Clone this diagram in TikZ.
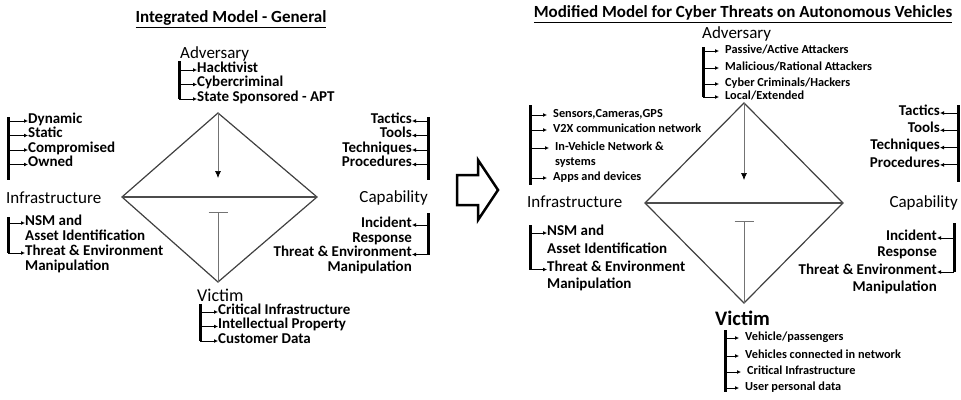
\documentclass[tikz,border=0pt]{standalone}
\usepackage{fontspec}
\setmainfont{Carlito}
\usetikzlibrary{arrows.meta}
\usetikzlibrary{positioning}
\usetikzlibrary{calc}

\begin{document}
\begin{tikzpicture}[x=1pt,y=-1pt]
\tikzstyle{title node}=[font=\bfseries\fontsize{17}{20}\selectfont,inner sep=0]
\tikzstyle{head node}=[font=\fontsize{17}{20}\selectfont,inner sep=0]
\tikzstyle{item node}=[font=\bfseries\fontsize{15}{18}\selectfont,inner sep=0,text height=0.64em,text depth=0.2em]
\tikzstyle{small node}=[font=\bfseries\fontsize{12.3}{15}\selectfont,inner sep=0,text height=0.64em,text depth=0.2em]
\tikzset{
  bar/.style  = {line width=3pt},
  tick/.style = {-{Latex[length=4pt,width=4pt]},line width=0.9pt},
  gap tick/.style = {tick,shorten >=6pt},
  side/.style = {line width=1.2pt,draw=black!75},
  axis/.style = {line width=1.6pt,draw=black!70},
  down/.style = {line width=0.7pt,draw=black!55,-{Latex[length=7pt,width=6pt,black]}},
  stop/.style = {line width=0.7pt,draw=black!55,-{Bar[width=19pt]}}
}
\useasboundingbox (0,0) rectangle (961,399);

%%%%%%%%%%%%%%%%%%%%%%%%%% integrated model
\node[title node] (titleL) at (231,19) {\underline{Integrated Model - General}};
\coordinate (topL) at (218,113);
\coordinate (leftL) at (122,197);
\coordinate (rightL) at (317,197);
\coordinate (botL) at (218,282);
\coordinate (arrL) at (218,178);
\coordinate (stopL) at (218,212);
\draw[side] (topL) -- (rightL) -- (botL) -- (leftL) -- cycle;
\draw[axis] (leftL) -- (rightL);
\path (topL) edge[down] (arrL)
      (botL) edge[stop] (stopL);

\node[head node, anchor=west] (advL) at (180,54) {Adversary};
\node[item node, anchor=west] (hackL) at (197,70) {Hacktivist};
\node[item node, below=14.5pt of hackL.west, anchor=west] (cybL) {Cybercriminal};
\node[item node, below=14.5pt of cybL.west, anchor=west] (stateL) {State Sponsored - APT};
\coordinate (advbarL) at (179,61);

\node[item node, anchor=west] (dynL) at (28,121) {Dynamic};
\node[item node, below=14.5pt of dynL.west, anchor=west] (statL) {Static};
\node[item node, below=14.5pt of statL.west, anchor=west] (compL) {Compromised};
\node[item node, below=14.5pt of compL.west, anchor=west] (ownL) {Owned};
\coordinate (infbarL) at (8,117);
\coordinate (infendL) at (8,180);
\node[head node, anchor=west] (infL) at (6,198) {Infrastructure};
\node[item node, anchor=west] (nsmL) at (25,223) {NSM and};
\node[item node, below=15pt of nsmL.west, anchor=west] (assetL) {Asset Identification};
\node[item node, below=15pt of assetL.west, anchor=west] (thrL) {Threat \& Environment};
\node[item node, below=15pt of thrL.west, anchor=west] (manL) {Manipulation};
\coordinate (nsmbarL) at (8,217);

\node[item node, anchor=east] (tacL) at (412,121) {Tactics};
\node[item node, below=14.5pt of tacL.east, anchor=east] (toolL) {Tools};
\node[item node, below=14.5pt of toolL.east, anchor=east] (techL) {Techniques};
\node[item node, below=14.5pt of techL.east, anchor=east] (procL) {Procedures};
\coordinate (capbarL) at (428,117);
\coordinate (capendL) at (428,180);
\node[head node, anchor=east] (capL) at (428,198) {Capability};
\node[item node, anchor=east] (incL) at (412,225) {Incident};
\node[item node, below=15pt of incL.east, anchor=east] (respL) {Response};
\node[item node, below=14.5pt of respL.east, anchor=east] (thrcL) {Threat \& Environment};
\node[item node, below=15pt of thrcL.east, anchor=east] (mancL) {Manipulation};
\coordinate (incbarL) at (428,213);

\node[head node, font=\fontsize{18}{21}\selectfont, anchor=west] (vicL) at (197,295) {Victim};
\node[item node, anchor=west] (critL) at (218,312) {Critical Infrastructure};
\node[item node, below=14.5pt of critL.west, anchor=west] (intL) {Intellectual Property};
\node[item node, below=14.5pt of intL.west, anchor=west] (custL) {Customer Data};
\coordinate (vicbarL) at (200,304);

\draw[bar] (advbarL) -- (advbarL |- stateL);
\draw[bar] (infbarL) -- (infendL);
\draw[bar] (nsmbarL) -- (nsmbarL |- thrL);
\draw[bar] (capbarL) -- (capendL);
\draw[bar] (incbarL) -- (incbarL |- thrcL);
\draw[bar] (vicbarL) -- (vicbarL |- custL);
\path[tick]
    (advbarL |- hackL) edge (hackL)
    (advbarL |- cybL) edge (cybL)
    (advbarL |- stateL) edge (stateL)
    (infbarL |- dynL) edge (dynL)
    (infbarL |- statL) edge (statL)
    (infbarL |- compL) edge (compL)
    (infbarL |- ownL) edge (ownL)
    (nsmbarL |- nsmL) edge (nsmL)
    (nsmbarL |- thrL) edge (thrL)
    (capbarL |- tacL) edge (tacL)
    (capbarL |- toolL) edge (toolL)
    (capbarL |- techL) edge (techL)
    (capbarL |- procL) edge (procL)
    (incbarL |- incL) edge (incL)
    (incbarL |- thrcL) edge (thrcL)
    (vicbarL |- critL) edge (critL)
    (vicbarL |- intL) edge (intL)
    (vicbarL |- custL) edge (custL);

%%%%%%%%%%%%%%%%%%%%%%%%%% hollow arrow
\draw[line width=2.5pt, line join=miter] (457,175) -- (478,175) -- (478,160) -- (498,190)
    -- (478,220) -- (478,205) -- (457,205) -- cycle;

%%%%%%%%%%%%%%%%%%%%%%%%%% modified model
\node[title node] (titleR) at (743,14) {\underline{Modified Model for Cyber Threats on Autonomous Vehicles}};
\coordinate (topR) at (744,103);
\coordinate (leftR) at (645,203);
\coordinate (rightR) at (843,203);
\coordinate (botR) at (744,303);
\coordinate (arrR) at (744,180);
\coordinate (stopR) at (744,221);
\draw[side] (topR) -- (rightR) -- (botR) -- (leftR) -- cycle;
\draw[axis] (leftR) -- (rightR);
\path (topR) edge[down] (arrR)
      (botR) edge[stop] (stopR);

\node[head node, anchor=west] (advR) at (702,34) {Adversary};
\node[small node, anchor=west] (passR) at (725,51) {Passive/Active Attackers};
\node[small node, anchor=west] (malR) at (725,68) {Malicious/Rational Attackers};
\node[small node, anchor=west] (cybR) at (725,84) {Cyber Criminals/Hackers};
\node[small node, anchor=west] (locR) at (725,97) {Local/Extended};
\coordinate (advbarR) at (703,47);

\node[small node, anchor=west] (sensR) at (553,115) {Sensors,Cameras,GPS};
\node[small node, anchor=west] (v2xR) at (553,130) {V2X communication network};
\node[small node, anchor=west] (invR) at (555,148) {In-Vehicle Network \&};
\node[small node, anchor=west] (sysR) at (555,163) {systems};
\node[small node, anchor=west] (appR) at (553,178) {Apps and devices};
\coordinate (infbarR) at (530,105);
\coordinate (infendR) at (530,185);
\node[head node, anchor=west] (infR) at (527,202) {Infrastructure};
\node[item node, anchor=west] (nsmR) at (547,233) {NSM and};
\node[item node, below=18.5pt of nsmR.west, anchor=west] (assetR) {Asset Identification};
\node[item node, below=18pt of assetR.west, anchor=west] (thrR) {Threat \& Environment};
\node[item node, below=17pt of thrR.west, anchor=west] (manR) {Manipulation};
\coordinate (nsmbarR) at (530,225);

\node[item node, anchor=east] (tacR) at (940,113) {Tactics};
\node[item node, below=17.3pt of tacR.east, anchor=east] (toolR) {Tools};
\node[item node, below=17.3pt of toolR.east, anchor=east] (techR) {Techniques};
\node[item node, below=17.3pt of techR.east, anchor=east] (procR) {Procedures};
\coordinate (capbarR) at (958,105);
\coordinate (capendR) at (958,182);
\node[head node, anchor=east] (capR) at (958,203) {Capability};
\node[item node, anchor=east] (incR) at (937,238) {Incident};
\node[item node, below=16.5pt of incR.east, anchor=east] (respR) {Response};
\node[item node, below=17.5pt of respR.east, anchor=east] (thrcR) {Threat \& Environment};
\node[item node, below=17pt of thrcR.east, anchor=east] (mancR) {Manipulation};
\coordinate (incbarR) at (954,223);

\node[head node, font=\bfseries\fontsize{20.6}{24}\selectfont, anchor=west] (vicR) at (715,318) {Victim};
\node[small node, anchor=west] (vehR) at (745,338) {Vehicle/passengers};
\node[small node, anchor=west] (vconR) at (745,356) {Vehicles connected in network};
\node[small node, anchor=west] (critR) at (747,372) {Critical Infrastructure};
\node[small node, anchor=west] (userR) at (745,388) {User personal data};
\coordinate (vicbarR) at (725,330);
\coordinate (vicendR) at (725,392);

\draw[bar] (advbarR) -- (advbarR |- locR);
\draw[bar] (infbarR) -- (infendR);
\draw[bar] (nsmbarR) -- (nsmbarR |- thrR);
\draw[bar] (capbarR) -- (capendR);
\draw[bar] (incbarR) -- (incbarR |- thrcR);
\draw[bar] (vicbarR) -- (vicendR);
\path[tick]
    (advbarR |- passR) edge[gap tick] (passR)
    (advbarR |- malR) edge[gap tick] (malR)
    (advbarR |- cybR) edge[gap tick] (cybR)
    (advbarR |- locR) edge[gap tick] (locR)
    (infbarR |- sensR) edge[gap tick] (sensR)
    (infbarR |- v2xR) edge[gap tick] (v2xR)
    (infbarR |- invR) edge[gap tick] (invR)
    (infbarR |- appR) edge[gap tick] (appR)
    (nsmbarR |- nsmR) edge (nsmR)
    (nsmbarR |- thrR) edge (thrR)
    (capbarR |- tacR) edge (tacR)
    (capbarR |- toolR) edge (toolR)
    (capbarR |- techR) edge (techR)
    (capbarR |- procR) edge (procR)
    (incbarR |- incR) edge (incR)
    (incbarR |- thrcR) edge (thrcR)
    (vicbarR |- vehR) edge[gap tick] (vehR)
    (vicbarR |- vconR) edge[gap tick] (vconR)
    (vicbarR |- critR) edge[gap tick] (critR)
    (vicbarR |- userR) edge[gap tick] (userR);
\end{tikzpicture}
\end{document}
